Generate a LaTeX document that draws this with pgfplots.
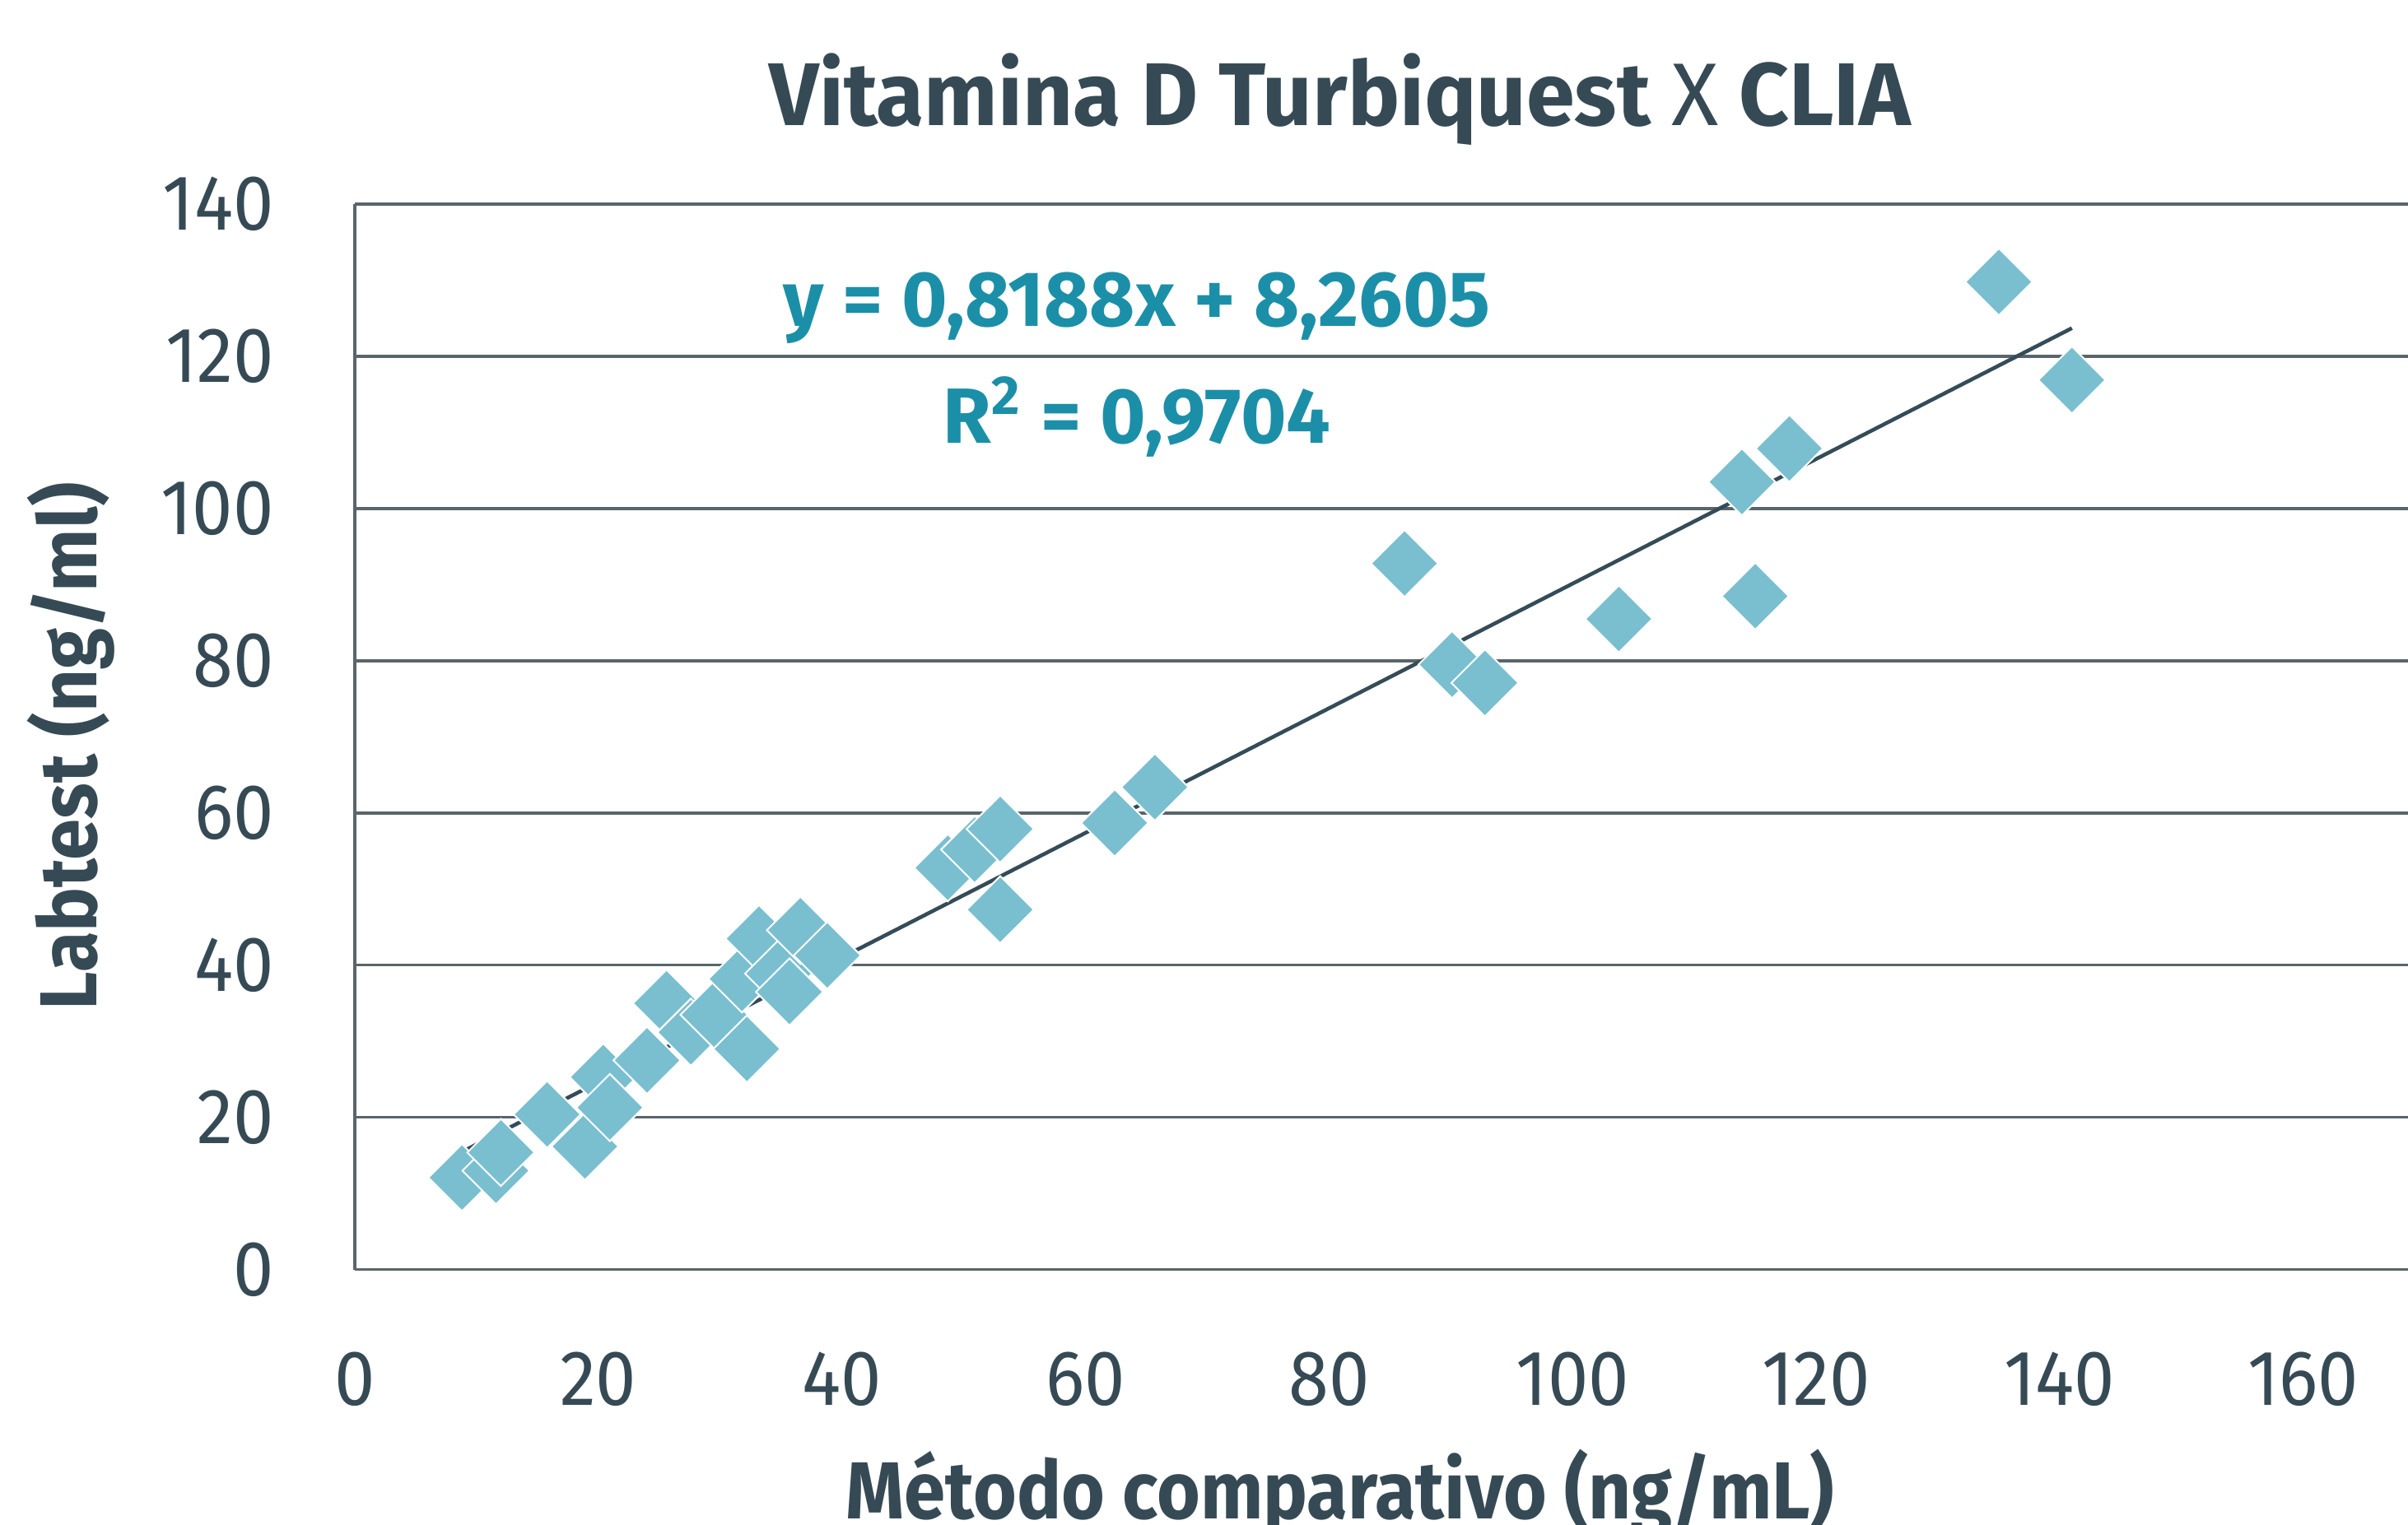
\documentclass[border=0pt]{standalone}
\usepackage{fontspec}
\setmainfont{Fira Sans}[FakeStretch=0.93]
\newfontfamily\ftitle{Fira Sans}[FakeStretch=0.98]
\newfontfamily\flab{Fira Sans}[FakeStretch=0.92]
\newfontfamily\feq{Fira Sans}
\usepackage{pgfplots}
\pgfplotsset{compat=1.18}
\definecolor{txt}{HTML}{364A55}
\definecolor{grd}{HTML}{59656B}
\definecolor{mk}{HTML}{7ABFCF}
\definecolor{eq}{HTML}{1C8FA8}
\definecolor{trend}{HTML}{354C58}
\begin{document}
\begin{tikzpicture}
\begin{axis}[
  width=133.7mm, height=69.4mm, scale only axis,
  xmin=0, xmax=168.6, ymin=0, ymax=140,
  axis lines=left, axis line style={-, draw=grd, line width=0.5pt},
  xtick={0,20,...,160}, ytick={0,20,...,140},
  ymajorgrids, grid style={draw=grd, line width=0.5pt},
  major tick length=0pt,
  tick label style={font=\fontsize{14.5}{16}\selectfont, text=txt},
  /pgf/number format/assume math mode=true,
  yticklabel style={anchor=east, inner sep=0pt, xshift=-5.2mm},
  xticklabel style={anchor=north, inner sep=0pt, yshift=-5.3mm},
  clip=false,
]
\addplot[only marks, mark=square*, mark size=4.4pt,
  mark options={rotate=45, fill=mk, draw=white, line width=0.3pt}]
  coordinates {
  (8.8,12.1) (11.6,13.0) (12.0,15.4) (15.8,20.4) (18.9,16.2)
  (20.4,25.3) (20.95,21.3) (24.0,27.5) (25.6,35.0) (27.6,31.2)
  (29.5,33.5) (31.8,38.2) (32.2,29.0) (33.2,43.5) (34.8,38.9)
  (35.7,36.5) (36.6,44.6) (38.8,41.3)
  (48.7,52.8) (50.9,55.2) (53.0,57.9) (53.0,47.3) (62.4,58.7) (65.7,63.4)
  (86.2,92.8) (90.1,79.5) (92.8,77.1) (103.8,85.5)
  (113.9,103.5) (115.0,88.5) (117.8,107.9) (135.0,129.8) (141.0,116.9)
  };
\addplot[no marks, draw=trend, line width=0.7pt]
  coordinates {(8.8,15.47) (141.0,123.71)};
\node[font=\ftitle\bfseries\fontsize{16.5}{18}\selectfont, text=txt, anchor=base]
  at (rel axis cs:0.480,1.0735) {Vitamina D Turbiquest {\mdseries X} CLIA};
\node[font=\flab\bfseries\fontsize{15}{17}\selectfont, text=txt, anchor=base]
  at (rel axis cs:0.480,-0.2335) {Método comparativo (ng/mL)};
\node[font=\flab\bfseries\fontsize{15}{17}\selectfont, text=txt, anchor=base, rotate=90]
  at (rel axis cs:-0.1257,0.491) {Labtest (ng/ml)};
\node[font=\feq\bfseries\fontsize{14.5}{16}\selectfont, text=eq, anchor=base]
  at (rel axis cs:0.381,0.885) {y = 0,8188x + 8,2605};
\node[font=\feq\bfseries\fontsize{14.5}{16}\selectfont, text=eq, anchor=base]
  at (rel axis cs:0.381,0.776) {R\textsuperscript{2} = 0,9704};
\coordinate (bbsw) at (rel axis cs:-0.17277,-0.23919);
\coordinate (bbne) at (rel axis cs:1,1.19164);
\end{axis}
\pgfresetboundingbox
\path[use as bounding box] (bbsw) rectangle (bbne);
\end{tikzpicture}
\end{document}
